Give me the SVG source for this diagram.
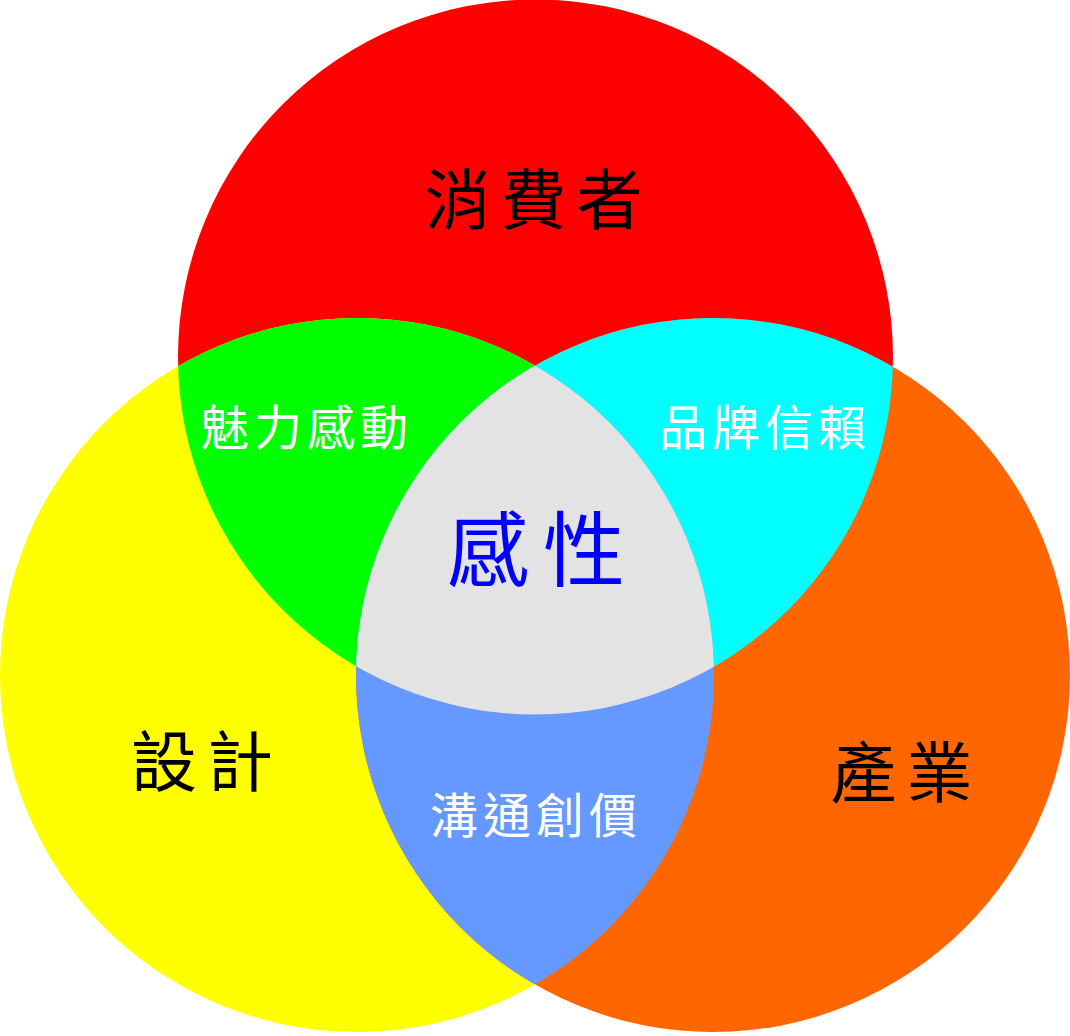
<svg xmlns="http://www.w3.org/2000/svg" width="1070" height="1036" viewBox="0 0 1070 1036">
<style>
text { font-family: "Noto Sans CJK TC", "Noto Sans CJK SC", sans-serif; text-anchor: middle; }
.big { font-size: 66px; letter-spacing: 10px; fill: #000; }
.mid { font-size: 48px; letter-spacing: 5px; fill: #fff; }
.core { font-size: 82px; letter-spacing: 14px; fill: #0000FF; }
</style>
<defs>
<clipPath id="cRed"><circle cx="535.5" cy="357" r="357.5"/></clipPath>
<clipPath id="cYel"><circle cx="357" cy="675" r="357"/></clipPath>
<clipPath id="cOra"><circle cx="713" cy="675" r="357"/></clipPath>
</defs>
<rect width="1070" height="1036" fill="#fff"/>
<g id="consumer"><circle cx="535.5" cy="357" r="357.5" fill="#FF0000"/></g>
<g id="design"><circle cx="357" cy="675" r="357" fill="#FFFF00"/></g>
<g id="industry"><circle cx="713" cy="675" r="357" fill="#FF6600"/></g>
<g id="charm"><g clip-path="url(#cRed)"><circle cx="357" cy="675" r="357" fill="#00FF00"/></g></g>
<g id="brand"><g clip-path="url(#cRed)"><circle cx="713" cy="675" r="357" fill="#00FFFF"/></g></g>
<g id="communicate"><g clip-path="url(#cYel)"><circle cx="713" cy="675" r="357" fill="#6699FF"/></g></g>
<g id="sensibility"><g clip-path="url(#cRed)"><g clip-path="url(#cYel)"><circle cx="713" cy="675" r="357" fill="#E3E3E3"/></g></g></g>
<g id="labels">
<text class="big" x="538.5" y="224">消費者</text>
<text class="big" x="207" y="786">設計</text>
<text class="big" x="906.5" y="797">產業</text>
<text class="mid" x="307" y="445">魅力感動</text>
<text class="mid" x="765" y="445">品牌信賴</text>
<text class="mid" x="536" y="833">溝通創價</text>
<text class="core" x="543" y="580">感性</text>
</g>
</svg>
